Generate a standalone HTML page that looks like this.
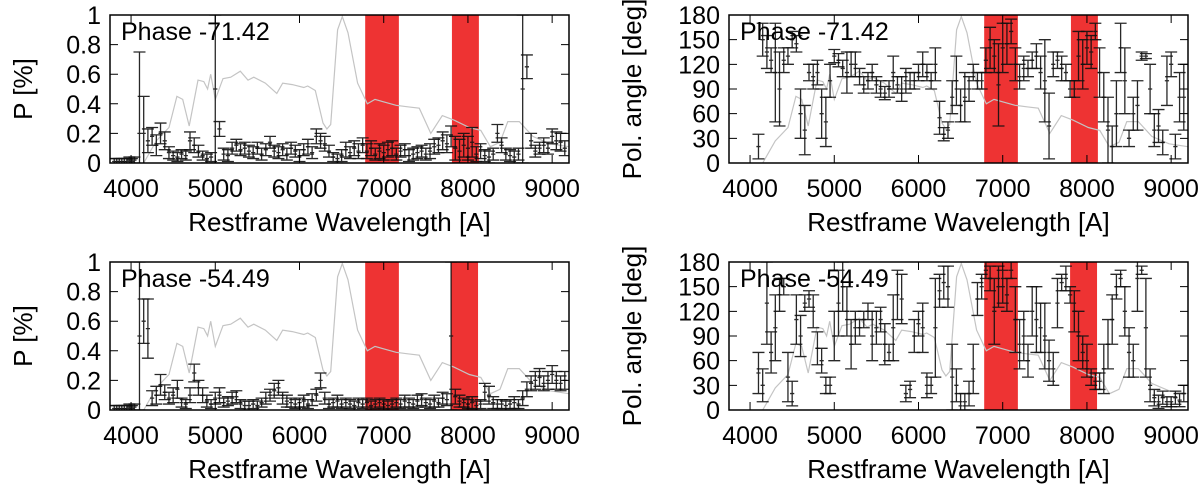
<!DOCTYPE html>
<html><head><meta charset="utf-8"><style>
html,body{margin:0;padding:0;background:#fff}
svg text{font-family:"Liberation Sans",Arial,sans-serif;fill:#000}
</style></head><body>
<svg id="fig" width="1200" height="487" viewBox="0 0 1200 487" xmlns="http://www.w3.org/2000/svg"></svg>
<script>
// ---------- data ----------
const wl = [4100,4150,4200,4250,4300,4350,4400,4450,4500,4550,4600,4650,4700,4750,4800,4850,4900,4950,5000,5050,5100,5150,5200,5250,5300,5350,5400,5450,5500,5550,5600,5650,5700,5750,5800,5850,5900,5950,6000,6050,6100,6150,6200,6250,6300,6350,6400,6450,6500,6550,6600,6650,6700,6750,6800,6850,6900,6950,7000,7050,7100,7150,7200,7250,7300,7350,7400,7450,7500,7550,7600,7650,7700,7750,7800,7850,7900,7950,8000,8050,8100,8150,8200,8250,8300,8350,8400,8450,8500,8550,8600,8650,8700,8750,8800,8850,8900,8950,9000,9050,9100,9150];
const lowWl = [3800,3830,3860,3890,3920,3950,3980,4010,4040];
const lowVal = [0.01,0.01,0.01,0.01,0.01,0.01,0.02,0.01,0.02];
const xTicks = [4000,5000,6000,7000,8000,9000];
const pTicks = [0,0.2,0.4,0.6,0.8,1];
const pTickLabels = ["0","0.2","0.4","0.6","0.8","1"];
const aTicks = [0,30,60,90,120,150,180];
const bandsTop = [[6780,7180],[7810,8130]];
const bandsBot = [[6780,7180],[7800,8120]];
const fluxWl = [4150,4300,4450,4544,4613,4690,4795,4864,4909,4946,5000,5092,5183,5297,5389,5457,5594,5731,5800,5914,6051,6097,6188,6279,6325,6371,6453,6508,6576,6690,6805,6896,7147,7285,7422,7559,7696,7833,8016,8153,8267,8381,8473,8610,8770,8975,9200];
const fluxVal = [0.0,0.15,0.24,0.45,0.43,0.25,0.56,0.55,0.5,0.6,0.43,0.57,0.58,0.62,0.56,0.58,0.54,0.47,0.54,0.53,0.51,0.52,0.49,0.27,0.23,0.26,0.9,0.99,0.88,0.54,0.4,0.43,0.39,0.38,0.37,0.2,0.32,0.29,0.24,0.22,0.11,0.14,0.28,0.28,0.18,0.13,0.11];

const tlVal = [.2,.2,.15,.18,.12,.2,.15,.07,.05,.04,.06,.05,.15,.12,.08,.05,.03,.04,.5,.23,.06,.05,.1,.12,.09,.1,.08,.07,.1,.06,.09,.14,.08,.07,.09,.06,.1,.08,.05,.09,.11,.07,.18,.15,.13,.08,.04,.03,.05,.09,.07,.1,.08,.12,.08,.1,.06,.08,.07,.09,.1,.06,.08,.09,.05,.06,.07,.08,.06,.08,.11,.12,.15,.13,.18,.1,.08,.12,.1,.14,.06,.08,.05,.04,.06,.2,.12,.06,.05,.04,.06,.5,.65,.15,.08,.1,.12,.1,.18,.15,.14,.1];
const tlErr = [.55,.25,.08,.06,.07,.07,.06,.04,.03,.03,.03,.03,.06,.05,.04,.03,.03,.03,.5,.05,.04,.04,.04,.04,.04,.04,.04,.04,.04,.04,.04,.04,.04,.04,.04,.04,.04,.04,.04,.04,.05,.04,.05,.05,.05,.04,.03,.03,.04,.05,.04,.05,.05,.05,.05,.05,.04,.05,.05,.05,.05,.04,.04,.04,.04,.04,.04,.04,.04,.05,.05,.05,.06,.06,.07,.08,.08,.08,.08,.1,.05,.05,.04,.04,.04,.06,.05,.04,.04,.04,.04,.5,.08,.05,.04,.04,.05,.04,.05,.06,.06,.05];

const blVal = [.5,.6,.55,.08,.1,.17,.12,.08,.1,.14,.05,.04,.1,.25,.15,.1,.06,.04,.08,.1,.05,.06,.08,.09,.04,.03,.03,.04,.03,.05,.08,.1,.13,.15,.08,.06,.05,.04,.05,.06,.04,.07,.1,.2,.08,.04,.05,.06,.04,.05,.04,.03,.05,.04,.05,.03,.04,.05,.04,.03,.04,.05,.04,.06,.05,.04,.06,.07,.05,.04,.06,.05,.08,.07,.5,.09,.06,.05,.04,.05,.03,.04,.12,.1,.05,.04,.04,.03,.04,.05,.04,.08,.14,.18,.2,.22,.18,.2,.24,.2,.18,.2];
const blErr = [.5,.15,.2,.05,.06,.07,.05,.04,.05,.06,.03,.03,.05,.06,.05,.05,.04,.03,.04,.05,.03,.03,.04,.04,.03,.03,.03,.03,.03,.03,.04,.04,.05,.05,.04,.04,.03,.03,.03,.04,.03,.04,.04,.05,.04,.03,.03,.04,.03,.03,.03,.03,.03,.03,.03,.03,.03,.03,.03,.03,.03,.03,.03,.04,.03,.03,.04,.04,.03,.03,.04,.03,.04,.04,.5,.05,.04,.03,.03,.04,.03,.03,.06,.06,.04,.03,.03,.03,.03,.04,.03,.05,.05,.05,.06,.06,.05,.06,.06,.06,.05,.06];

const trVal = [20,150,135,125,110,90,125,130,150,145,60,40,110,105,110,60,50,100,130,125,115,110,120,120,105,95,100,110,95,90,85,90,110,95,90,100,100,100,110,120,110,100,120,55,35,40,80,100,70,80,90,110,100,100,125,140,130,95,140,145,160,120,105,115,115,125,130,110,100,45,120,125,115,110,90,90,130,120,140,135,160,110,80,40,20,60,140,100,30,60,70,130,130,90,40,45,25,100,120,20,80,80];
const trErr = [15,20,20,15,60,45,15,10,10,10,30,30,10,15,15,30,30,20,8,8,10,25,15,15,10,10,10,10,10,10,8,10,20,10,15,15,10,10,10,15,10,10,20,20,8,10,20,30,20,30,15,10,10,10,15,25,20,50,30,25,15,20,15,15,10,10,15,20,50,40,15,10,15,10,10,10,30,30,20,20,10,30,30,40,25,40,30,40,10,20,30,5,3,30,20,20,15,30,15,15,30,40];

const brVal = [45,30,130,70,100,140,150,40,20,110,90,130,135,120,75,60,30,30,90,130,150,120,80,100,100,110,120,90,100,110,80,70,100,140,135,20,25,90,105,100,30,30,100,145,155,150,40,30,5,10,20,50,135,150,170,160,120,150,150,140,170,110,80,90,60,120,110,100,90,60,50,130,155,160,140,120,90,70,60,40,35,35,50,80,110,150,160,120,70,60,160,170,100,30,15,10,15,10,10,15,12,20];
const brErr = [25,20,50,25,40,20,10,30,15,30,25,10,10,20,20,15,10,10,30,40,30,30,30,20,10,10,10,30,20,15,25,10,40,30,30,10,10,20,15,30,15,10,60,20,20,25,40,20,15,10,15,30,20,15,10,15,40,25,20,20,10,40,30,30,20,30,40,30,40,25,20,30,10,15,10,25,30,20,20,10,10,10,30,30,30,15,10,30,30,20,40,5,60,20,10,8,8,6,6,8,8,10];

// ---------- drawing ----------
const NS = "http://www.w3.org/2000/svg";
const svg = document.getElementById("fig");
const XMIN = 3750, XMAX = 9200;
function mk(tag, attrs, parent){ const e=document.createElementNS(NS,tag); for(const k in attrs) e.setAttribute(k,attrs[k]); (parent||svg).appendChild(e); return e; }

function panel(cfg){
  const g = mk("g",{});
  
  
  const L=cfg.x, R=cfg.x+459, T=cfg.y, B=cfg.y+148;
  const xs = v => L + (v-XMIN)/(XMAX-XMIN)*(R-L);
  const ys = v => B - (v-cfg.ymin)/(cfg.ymax-cfg.ymin)*(B-T);
  const clip = "clip-"+cfg.name;
  const cp = mk("clipPath",{id:clip},g); mk("rect",{x:L,y:T,width:R-L,height:B-T},cp);
  cfg.bands.forEach(b=>{
    const r = mk("rect",{x:xs(b[0]),y:T,width:xs(b[1])-xs(b[0]),height:B-T,fill:"#ee3333"},g);
    
    
  });
  const fp = fluxWl.map((w,i)=>(i?"L":"M")+xs(w).toFixed(1)+","+ys(cfg.ymin+fluxVal[i]*(cfg.ymax-cfg.ymin)).toFixed(1)).join("");
  const fl = mk("path",{d:fp,fill:"none",stroke:"#c4c4c4","stroke-width":1.2,"clip-path":"url(#"+clip+")"},g);
  
  
  const eg = mk("g",{"clip-path":"url(#"+clip+")",stroke:"#111","stroke-width":1.3,fill:"none","stroke-opacity":0.9},g);
  
  
  const drawBar=(w,v,e)=>{
    const x=xs(w), y1=ys(v-e), y2=ys(v+e), y=ys(v), hw=xs(w+25)-x;
    const p = mk("path",{d:`M${x},${y1}L${x},${y2}M${x-6},${y1}L${x+6},${y1}M${x-6},${y2}L${x+6},${y2}M${x-hw},${y}L${x+hw},${y}`},eg);
    
    
  };
  if(cfg.low) lowWl.forEach((w,i)=>drawBar(w,lowVal[i],0.02));
  wl.forEach((w,i)=>drawBar(w,cfg.val[i],cfg.err[i]));
  const fr = mk("rect",{x:L,y:T,width:R-L,height:B-T,fill:"none",stroke:"#000","stroke-width":1.5},g);
  
  
  xTicks.forEach(t=>{
    const x=xs(t);
    mk("path",{d:`M${x},${B}L${x},${B-8}M${x},${T}L${x},${T+8}`,stroke:"#000","stroke-width":1},g);
    const tx = mk("text",{x:x,y:B+34,"text-anchor":"middle","font-size":25},g);
    tx.textContent=t;
    
    
  });
  cfg.yticks.forEach((t,i)=>{
    const y=ys(t);
    mk("path",{d:`M${L},${y}L${L+8},${y}M${R},${y}L${R-8},${y}`,stroke:"#000","stroke-width":1},g);
    const ty = mk("text",{x:L-9,y:y+9,"text-anchor":"end","font-size":25},g);
    ty.textContent=cfg.ylabels[i];
    
    
  });
  const xt = mk("text",{x:(L+R)/2,y:B+68,"text-anchor":"middle","font-size":26},g);
  xt.textContent="Restframe Wavelength [A]";
  
  
  const yt = mk("text",{x:0,y:0,"text-anchor":"middle","font-size":26,transform:`translate(${cfg.ytx},${(T+B)/2}) rotate(-90)`},g);
  yt.textContent=cfg.ytitle;
  
  
  const ph = mk("text",{x:L+11,y:T+25,"font-size":25},g);
  ph.textContent=cfg.phase;
  
  
}

panel({name:"panel-p-top",x:110,y:15,ymin:0,ymax:1,yticks:pTicks,ylabels:pTickLabels,ytitle:"P [%]",ytx:32,phase:"Phase -71.42",val:tlVal,err:tlErr,bands:bandsTop,low:true});
panel({name:"panel-angle-top",x:729,y:15,ymin:0,ymax:180,yticks:aTicks,ylabels:aTicks,ytitle:"Pol. angle [deg]",ytx:641,phase:"Phase -71.42",val:trVal,err:trErr,bands:bandsTop,low:false});
panel({name:"panel-p-bottom",x:110,y:262,ymin:0,ymax:1,yticks:pTicks,ylabels:pTickLabels,ytitle:"P [%]",ytx:32,phase:"Phase -54.49",val:blVal,err:blErr,bands:bandsBot,low:true});
panel({name:"panel-angle-bottom",x:729,y:262,ymin:0,ymax:180,yticks:aTicks,ylabels:aTicks,ytitle:"Pol. angle [deg]",ytx:641,phase:"Phase -54.49",val:brVal,err:brErr,bands:bandsBot,low:false});
</script>
</body></html>
